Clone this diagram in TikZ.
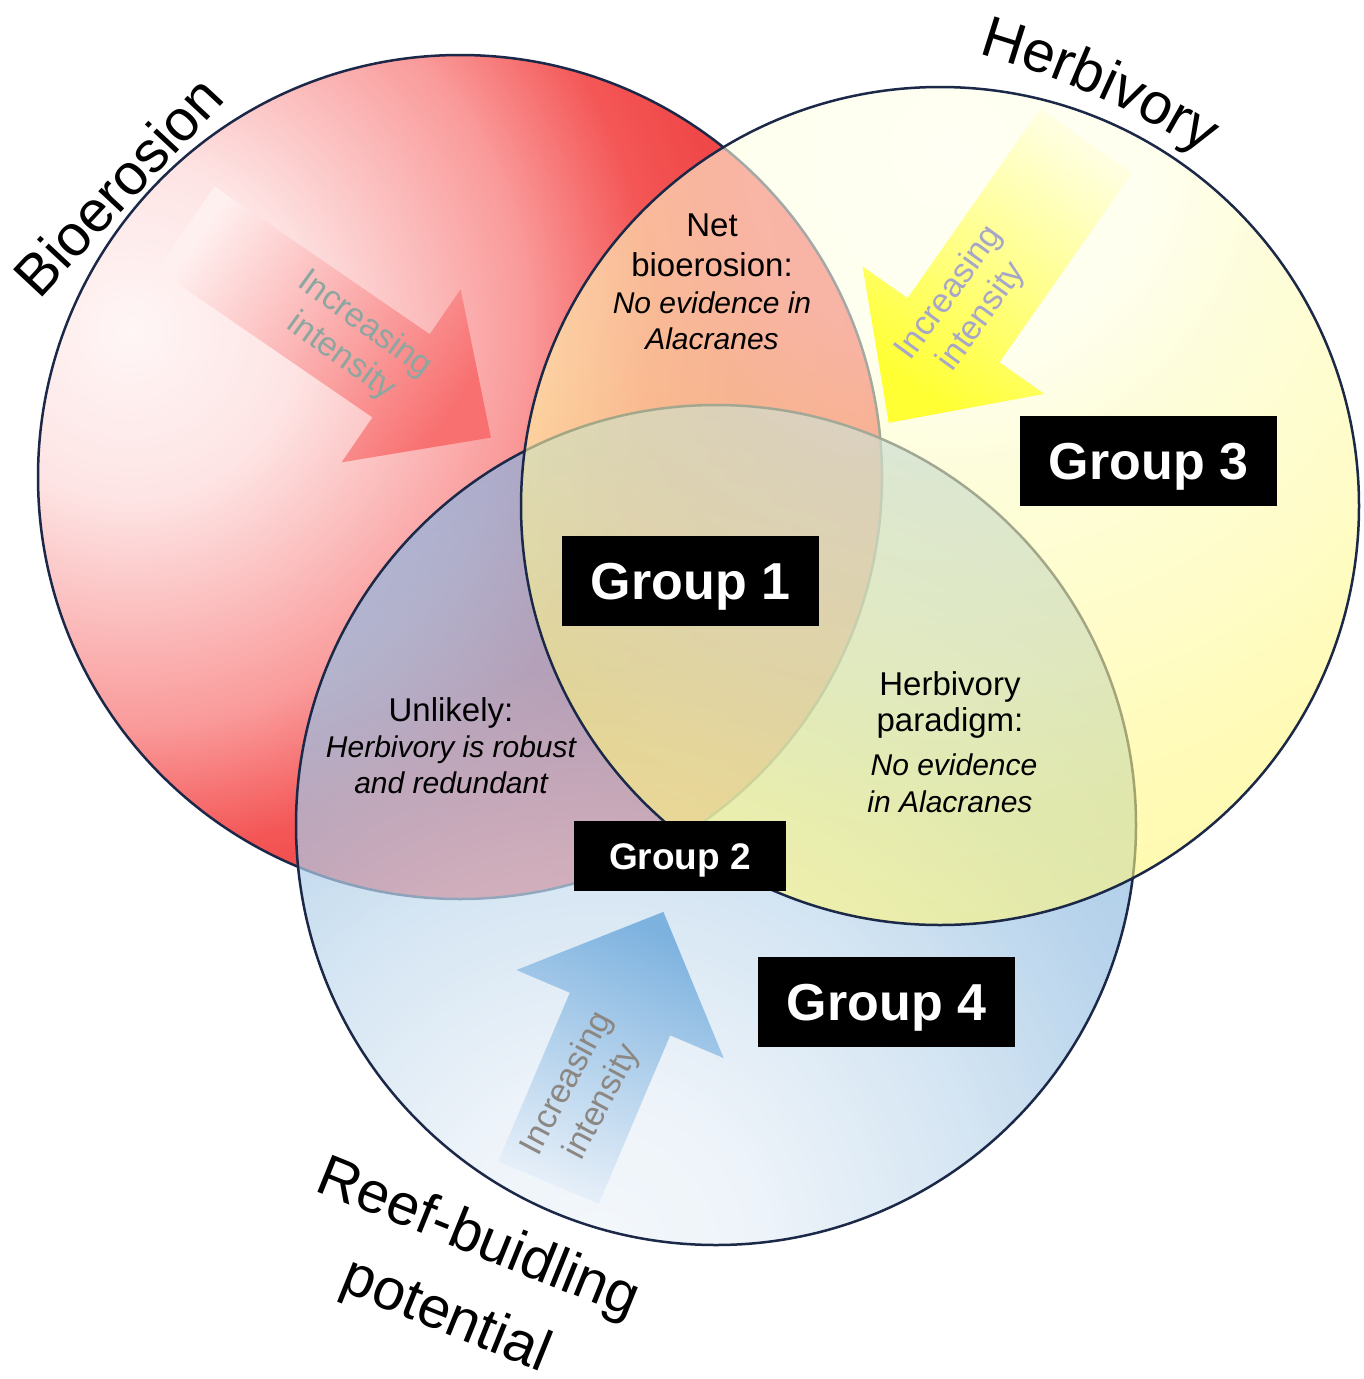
\documentclass[tikz,border=0pt]{standalone}
\usepackage{fontspec}
\setmainfont{Liberation Sans}
\usetikzlibrary{decorations.text}
\definecolor{outl}{HTML}{1B2848}
% red circle colours
\definecolor{rs0}{HTML}{FFF6F6}
\definecolor{rs1}{HTML}{FEE4E4}
\definecolor{rs2}{HTML}{FCC8C8}
\definecolor{rs3}{HTML}{FA9A9A}
\definecolor{rs4}{HTML}{F45656}
\definecolor{rs5}{HTML}{F04848}
\definecolor{rs6}{HTML}{EE4040}
% blue circle colours
\definecolor{bs0}{HTML}{EFF5FB}
\definecolor{bs1}{HTML}{E7EFF8}
\definecolor{bs2}{HTML}{CDE1F1}
\definecolor{bs3}{HTML}{C4DBEE}
\definecolor{bs4}{HTML}{9AC2E4}
\definecolor{bs5}{HTML}{8CB2DE}
\definecolor{bs6}{HTML}{88AEDC}
% yellow circle colours
\definecolor{ys0}{HTML}{FFFFEB}
\definecolor{ys1}{HTML}{FFFFE6}
\definecolor{ys2}{HTML}{FDFDC1}
\definecolor{ys3}{HTML}{FFFBA6}
\definecolor{ys4}{HTML}{FFF885}
\definecolor{ys5}{HTML}{FFF67C}
% arrows
\definecolor{ra0}{HTML}{FFF0F0}
\definecolor{ra1}{HTML}{F87070}
\definecolor{ya0}{HTML}{FFFFE0}
\definecolor{ya1}{HTML}{FFFF33}
\definecolor{ba0}{HTML}{E4EEF8}
\definecolor{ba1}{HTML}{7DB2DF}
\definecolor{rtext}{HTML}{8DA6A0}
\definecolor{ytext}{HTML}{A6A6C8}
\definecolor{btext}{HTML}{8C8782}

\pgfdeclareradialshading{redsh}{\pgfpoint{0bp}{0bp}}{color(0bp)=(rs0); color(5.3bp)=(rs1); color(8bp)=(rs2); color(12.4bp)=(rs3); color(16.3bp)=(rs4); color(18.75bp)=(rs5); color(25bp)=(rs6); color(50bp)=(rs6)}
\pgfdeclareradialshading{bluesh}{\pgfpoint{0bp}{0bp}}{color(0bp)=(bs0); color(4.4bp)=(bs1); color(8.9bp)=(bs2); color(10.6bp)=(bs3); color(16.1bp)=(bs4); color(22.2bp)=(bs5); color(25bp)=(bs6); color(50bp)=(bs6)}
\pgfdeclareradialshading{yelsh}{\pgfpoint{0bp}{0bp}}{color(0bp)=(ys0); color(6.25bp)=(ys1); color(10.5bp)=(ys2); color(15.9bp)=(ys3); color(20.9bp)=(ys4); color(25bp)=(ys5); color(50bp)=(ys5)}

\begin{document}
\begin{tikzpicture}[x=1pt,y=-1pt,
  circ/.style={line width=2.5pt, draw=outl},
  grp/.style={fill=black, text=white, inner sep=0pt,
    font=\fontsize{52}{56}\selectfont\bfseries,
    minimum width=257pt, minimum height=90pt, text height=37.2pt, text depth=0pt},
  grpsm/.style={fill=black, text=white, inner sep=0pt,
    font=\fontsize{37}{40}\selectfont\bfseries,
    minimum width=212pt, minimum height=70pt, text height=26.5pt, text depth=0pt},
  reg/.style={font=\fontsize{33}{38}\selectfont, anchor=base, inner sep=0pt},
  regit/.style={font=\fontsize{30}{36}\selectfont\itshape, anchor=base, inner sep=0pt},
  ttl/.style={font=\fontsize{58}{62}\selectfont, anchor=base, inner sep=0pt},
  inc/.style={font=\fontsize{34}{40}\selectfont, align=center, inner sep=0pt}
]
\useasboundingbox (0,0) rectangle (1363,1379);
\fill[white] (0,0) rectangle (1363,1379);

% ---- red circle (Bioerosion)
\begin{scope}
  \clip (460,477) circle[radius=422];
  \shade[shading=redsh] (130,330) circle[radius=800];
\end{scope}
\draw[circ] (460,477) circle[radius=422];

% ---- blue circle (Reef-building)
\begin{scope}
  \clip (716,825) circle[radius=420];
  \shade[shading=bluesh, fill opacity=0.7] (600,1250) circle[radius=900];
\end{scope}
\draw[circ] (716,825) circle[radius=420];

% ---- yellow circle (Herbivory)
\begin{scope}
  \clip (940,506) circle[radius=419];
  \shade[shading=yelsh, fill opacity=0.6] (950,150) circle[radius=800];
\end{scope}
\draw[circ] (940,506) circle[radius=419];

% ---- block arrows
\shade[top color=ra0, bottom color=ra1, shading angle=55.5]
  (214.6,186.4) -- (429.7,334.2) -- (460.6,289.3) -- (490.9,437.6)
  -- (341.6,462.3) -- (372.5,417.4) -- (157.4,269.6) -- cycle;
\shade[top color=ya0, bottom color=ya1, shading angle=-35]
  (1040.1,108.9) -- (907.6,298.1) -- (862.6,266.5) -- (888.7,422.8)
  -- (1044.4,393.9) -- (999.4,362.3) -- (1131.9,173.1) -- cycle;
\shade[top color=ba0, bottom color=ba1, shading angle=157]
  (498.3,1161.2) -- (569.8,992.7) -- (516.4,970.0) -- (663.4,911.9)
  -- (723.6,1058.0) -- (670.2,1035.3) -- (598.7,1203.8) -- cycle;

\node[inc, text=rtext, rotate=-36] (rinc) at (353,341) {Increasing\\intensity};
\node[inc, text=ytext, rotate=54] (yinc) at (966,305) {Increasing\\intensity};
\node[inc, text=btext, rotate=62] (binc) at (585,1093) {Increasing\\intensity};

% ---- titles
\node[ttl, rotate=47] (tbio) at (133,200) {Bioerosion};
\path[decorate, decoration={text along path, text align=center,
    text={|\fontsize{58}{62}\selectfont|Herbivory}}]
  (729,918) ++(-87:900) arc[start angle=-87, end angle=-45, radius=900];
\node[ttl, rotate=-22] (treef) at (472,1254) {Reef-buidling};
\node[ttl, rotate=-22] (tpot) at (440,1331) {potential};

% ---- region texts
\node[reg] (n1) at (712,236) {Net};
\node[reg] (n2) at (712,276) {bioerosion:};
\node[regit] (n3) at (712,313) {No evidence in};
\node[regit] (n4) at (712,349) {Alacranes};

\node[reg] (u1) at (451,721) {Unlikely:};
\node[regit] (u2) at (451,757) {Herbivory is robust};
\node[regit] (u3) at (451,793) {and redundant};

\node[reg] (h1) at (950,695) {Herbivory};
\node[reg] (h2) at (950,731) {paradigm:};
\node[regit] (h3) at (954,775) {No evidence};
\node[regit] (h4) at (950,812) {in Alacranes};

% ---- group boxes
\node[grp] (g1) at (690.5,581) {Group 1};
\node[grp] (g3) at (1148.5,460.5) {Group 3};
\node[grp] (g4) at (886.5,1002) {Group 4};
\node[grpsm] (g2) at (680,856) {Group 2};
\end{tikzpicture}
\end{document}
